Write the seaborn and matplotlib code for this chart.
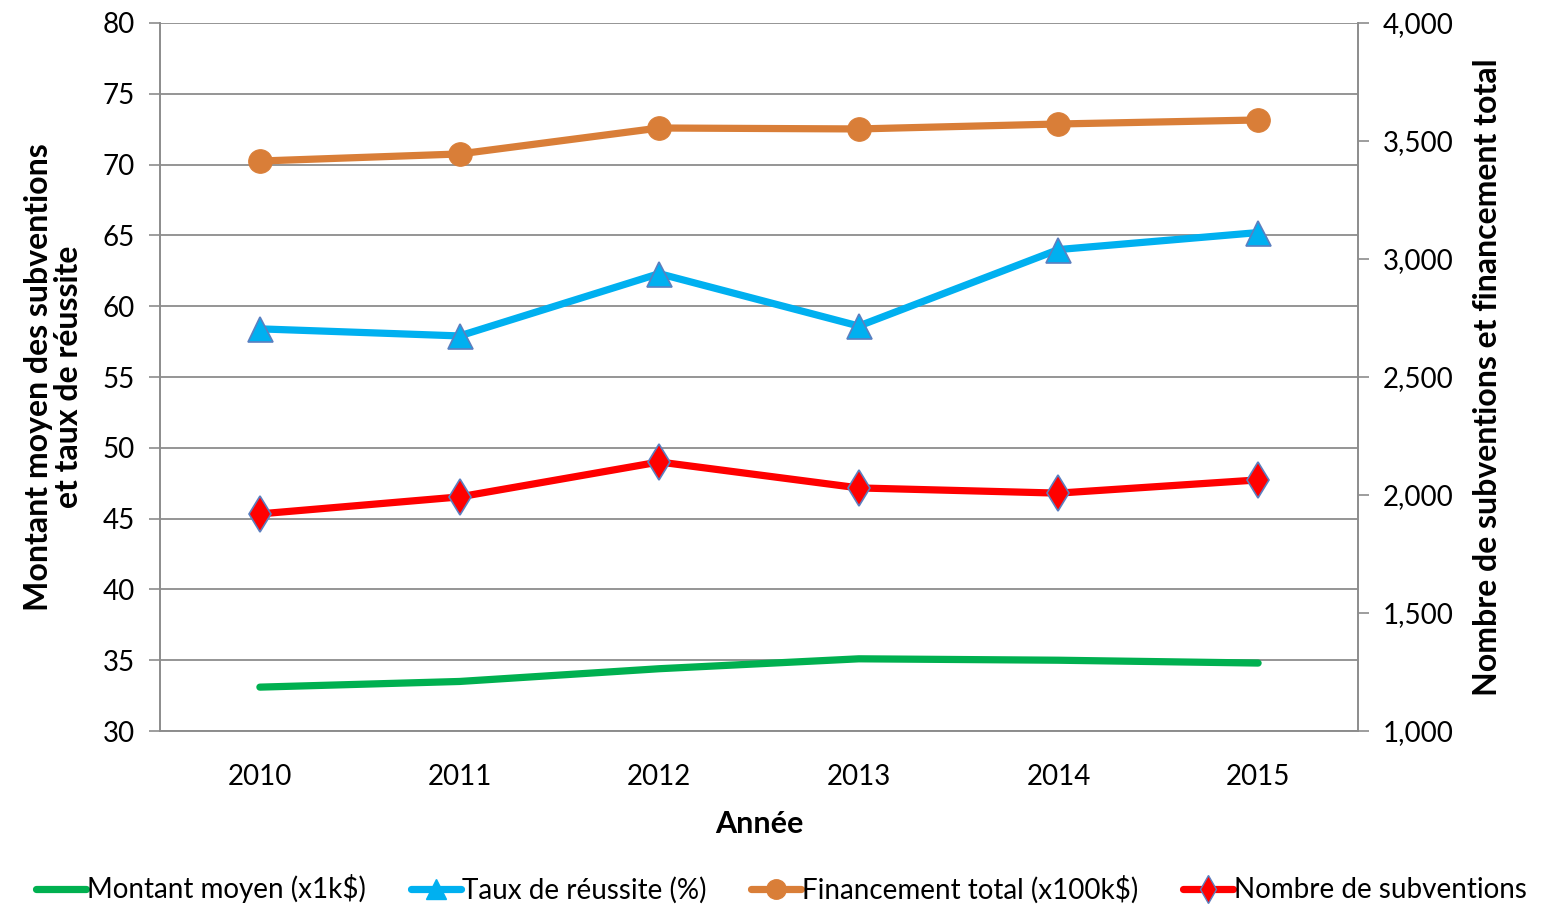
import numpy as np
import pandas as pd
import matplotlib
matplotlib.use("Agg")
import matplotlib.pyplot as plt
from matplotlib.lines import Line2D
from matplotlib.ticker import FuncFormatter, FixedLocator
import seaborn as sns

# Data
years = ["2010", "2011", "2012", "2013", "2014", "2015"]
montant_moyen = [33.1, 33.5, 34.4, 35.1, 35.0, 34.8]          # left axis (x1k$)
taux_reussite = [58.4, 57.9, 62.3, 58.6, 64.0, 65.2]          # left axis (%)
financement_total = [3415, 3445, 3555, 3551, 3572, 3589]      # right axis (x100k$)
nombre_subventions = [1920, 1992, 2140, 2030, 2008, 2064]     # right axis

sns.set_theme(style="white")
plt.rcParams['font.family'] = ['Lato', 'DejaVu Sans']
plt.rcParams['text.color'] = 'black'
plt.rcParams['axes.labelcolor'] = 'black'
plt.rcParams['xtick.color'] = 'black'
plt.rcParams['ytick.color'] = 'black'

df = pd.DataFrame({
    "idx": np.arange(len(years)),
    "montant": montant_moyen,
    "taux": taux_reussite,
    "financement": financement_total,
    "nombre": nombre_subventions,
})

c_green = "#00B050"
c_blue = "#00B0F0"
c_orange = "#D97E38"
c_red = "#FF0000"
c_edge = "#5B7FC0"
grid_c = "#8C8C8C"

fig = plt.figure(figsize=(15.63, 9.08), dpi=100)
ax = fig.add_axes([0.1024, 0.1949, 0.7664, 0.7798])
ax2 = ax.twinx()

lw = 5.2
sns.lineplot(data=df, x="idx", y="montant", ax=ax, color=c_green, lw=lw,
             solid_capstyle="round")
sns.lineplot(data=df, x="idx", y="taux", ax=ax, color=c_blue, lw=lw,
             marker="^", markersize=18, markerfacecolor=c_blue,
             markeredgecolor=c_edge, markeredgewidth=1.2)
sns.lineplot(data=df, x="idx", y="financement", ax=ax2, color=c_orange, lw=lw,
             marker="o", markersize=17, markerfacecolor=c_orange,
             markeredgecolor=c_orange)
sns.lineplot(data=df, x="idx", y="nombre", ax=ax2, color=c_red, lw=lw,
             marker="d", markersize=18, markerfacecolor=c_red,
             markeredgecolor=c_edge, markeredgewidth=1.2)

# Axes limits and ticks
ax.set_xlim(-0.5, len(years) - 0.5)
ax.set_ylim(30, 80)
ax.set_yticks(np.arange(30, 81, 5))
ax2.set_ylim(1000, 4000)
ax2.set_yticks(np.arange(1000, 4001, 500))
ax2.yaxis.set_major_formatter(FuncFormatter(lambda v, p: f"{int(v):,}"))

ax.set_xticks(df["idx"])
ax.set_xticklabels(years)
ax.xaxis.set_minor_locator(FixedLocator(np.arange(-0.5, len(years), 1.0)))
ax.tick_params(axis="x", which="major", length=0, pad=24, labelsize=20)
ax.tick_params(axis="x", which="minor", length=8, width=1.2, color=grid_c, direction="out")
ax.tick_params(axis="y", length=8, width=1.2, color=grid_c, direction="out",
               left=True, labelsize=20, labelcolor="black", pad=10)
ax2.tick_params(axis="y", length=8, width=1.2, color=grid_c, direction="out",
                right=True, labelsize=20, labelcolor="black", pad=10)

ax.yaxis.grid(True, color=grid_c, lw=1.3)
ax.set_axisbelow(True)

for a in (ax, ax2):
    a.spines["top"].set_visible(False)
    for s in ("left", "right", "bottom"):
        a.spines[s].set_color(grid_c)
        a.spines[s].set_linewidth(1.2)

ax.set_xlabel("Année", fontsize=22, fontweight="bold", labelpad=14)
ax.set_ylabel("Montant moyen des subventions\net taux de réussite",
              fontsize=23, fontweight="bold", labelpad=14, linespacing=1.05)
ax2.set_ylabel("Nombre de subventions et financement total",
               fontsize=23, fontweight="bold", labelpad=14)

handles = [
    Line2D([], [], color=c_green, lw=lw, solid_capstyle="round"),
    Line2D([], [], color=c_blue, lw=lw, marker="^", markersize=14,
           markerfacecolor=c_blue, markeredgecolor=c_blue),
    Line2D([], [], color=c_orange, lw=lw, marker="o", markersize=14,
           markerfacecolor=c_orange, markeredgecolor=c_orange),
    Line2D([], [], color=c_red, lw=lw, marker="d", markersize=14,
           markerfacecolor=c_red, markeredgecolor=c_edge),
]
labels = ["Montant moyen (x1k$)", "Taux de réussite (%)",
          "Financement total (x100k$)", "Nombre de subventions"]
fig.legend(handles, labels, loc="center", bbox_to_anchor=(0.5, 0.021), ncol=4,
           frameon=False, fontsize=20, handlelength=1.8, handletextpad=0.05,
           columnspacing=1.6)

fig.savefig("out.png", dpi=100)
